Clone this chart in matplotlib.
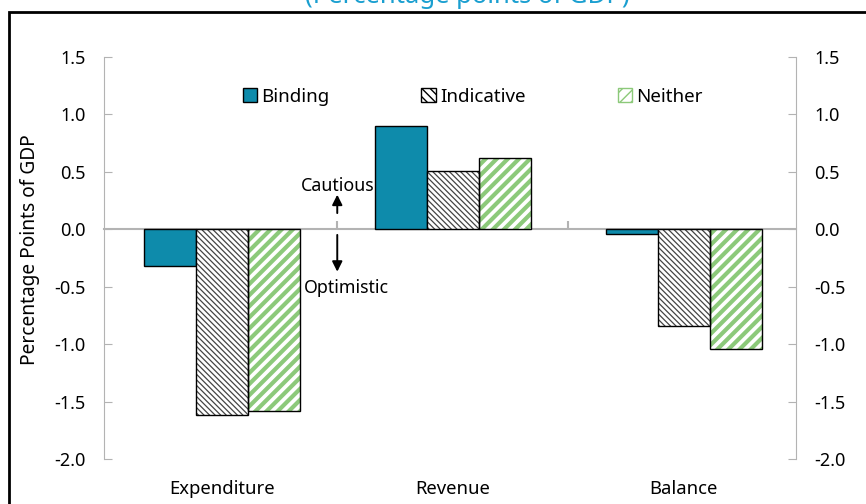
import numpy as np
import matplotlib
matplotlib.use("Agg")
import matplotlib.pyplot as plt
from matplotlib.patches import Rectangle, Patch

categories = ["Expenditure", "Revenue", "Balance"]
binding = [-0.32, 0.90, -0.04]
indicative = [-1.62, 0.51, -0.84]
neither = [-1.58, 0.62, -1.04]
yticks = [-2.0, -1.5, -1.0, -0.5, 0.0, 0.5, 1.0, 1.5]

plt.rcParams['font.family'] = ['Noto Sans', 'DejaVu Sans']

fig = plt.figure(figsize=(8.66, 5.04), dpi=100)
ax = fig.add_axes([0.120, 0.0893, 0.799, 0.798])

x = np.arange(len(categories))
w = 0.225
gray = '#b3b3b3'
teal = '#0e8bab'
green = '#8cc97a'
ind_hatch = '\\' * 6

ax.bar(x - w, binding, w, color=teal, edgecolor='black', linewidth=1.0, zorder=2)
with plt.rc_context({'hatch.linewidth': 0.9}):
    ax.bar(x, indicative, w, color='white', edgecolor='#444444', hatch=ind_hatch,
           linewidth=0, zorder=2)
with plt.rc_context({'hatch.linewidth': 3.0}):
    ax.bar(x + w, neither, w, color='white', edgecolor=green, hatch='///',
           linewidth=0, zorder=2)
ax.bar(x, indicative, w, fill=False, edgecolor='black', linewidth=1.0, zorder=3)
ax.bar(x + w, neither, w, fill=False, edgecolor='black', linewidth=1.0, zorder=3)

# legend proxies
with plt.rc_context({'hatch.linewidth': 0.9}):
    p2 = Patch(facecolor='white', edgecolor='black', hatch='\\\\\\\\', label='Indicative')
with plt.rc_context({'hatch.linewidth': 3.0}):
    p3 = Patch(facecolor='white', edgecolor=green, hatch='///', label='Neither')
p1 = Patch(facecolor=teal, edgecolor='black', label='Binding')
ax.legend(handles=[p1, p2, p3], loc='upper center', ncol=3, frameon=False,
          bbox_to_anchor=(0.533, 0.965), columnspacing=4.9, handlelength=0.75,
          handleheight=0.75, handletextpad=0.25, fontsize=13.5)

ax.set_xlim(-0.51, 2.485)
ax.set_ylim(-2.0, 1.5)
ax.set_yticks(yticks)
ax.set_yticklabels([f"{v:.1f}" for v in yticks])

ax.spines['top'].set_visible(False)
ax.spines['left'].set_color(gray)
ax.spines['right'].set_color(gray)
ax.spines['bottom'].set_position(('data', 0))
ax.spines['bottom'].set_color(gray)
ax.spines['bottom'].set_linewidth(1.5)
ax.spines['bottom'].set_zorder(1)

ax.tick_params(axis='y', direction='in', length=6, color=gray, labelsize=13,
               pad=13, right=True, labelright=True)
ax.set_xticks([0.5, 1.5])
ax.set_xticklabels([])
ax.tick_params(axis='x', direction='in', length=6, color=gray, width=1.5)

sec = ax.secondary_xaxis('bottom')
sec.set_xticks(x)
sec.set_xticklabels(categories)
sec.tick_params(length=0, labelsize=13.3, pad=15)
sec.spines['bottom'].set_visible(False)

ax.set_ylabel('Percentage Points of GDP', fontsize=13.8)
ax.yaxis.set_label_coords(-0.093, 0.52)

arrow = dict(arrowstyle='-|>', color='black', lw=1.4, mutation_scale=15,
             shrinkA=0, shrinkB=0)
ax.annotate('', xy=(0.5, 0.30), xytext=(0.5, 0.14), arrowprops=arrow, zorder=4)
ax.annotate('', xy=(0.5, -0.37), xytext=(0.5, -0.05), arrowprops=arrow, zorder=4)
ax.text(0.5, 0.375, 'Cautious', ha='center', va='center', fontsize=12.8)
ax.text(0.54, -0.51, 'Optimistic', ha='center', va='center', fontsize=12.8)

fig.text(0.540, 1 - 3 / 504, '(Percentage points of GDP)', ha='center', va='baseline',
         fontsize=18.5, color='#1a9fd0')

fig.patches.append(Rectangle((9 / 866, -0.1), 1.0, 1 - 12 / 504 + 0.1,
                             transform=fig.transFigure, fill=False,
                             edgecolor='black', linewidth=2.0, figure=fig))

fig.savefig('out.png', dpi=100)
